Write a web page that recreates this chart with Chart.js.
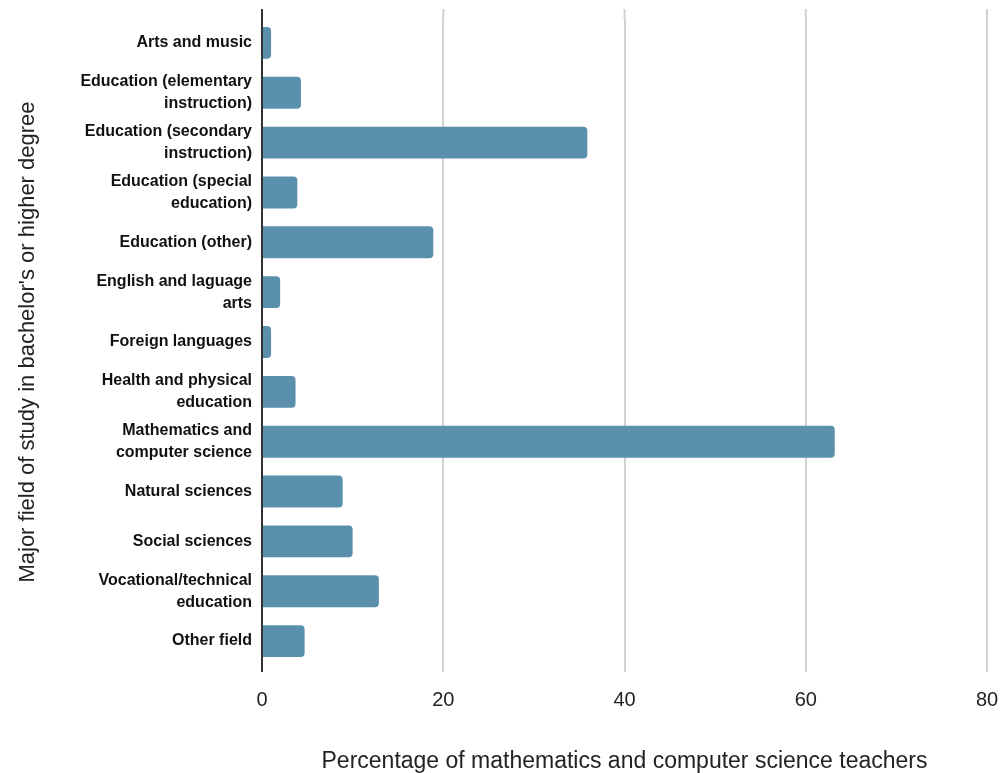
<!DOCTYPE html>
<html>
<head>
<meta charset="utf-8">
<script src="https://cdn.jsdelivr.net/npm/chart.js@4"></script>
<style>
	body { margin: 0; background: #fff; }
</style>
</head>
<body>
<canvas id="chart-area" width="1005" height="773"></canvas>
<script>
var categories = [
	'Arts and music',
	['Education (elementary', 'instruction)'],
	['Education (secondary', 'instruction)'],
	['Education (special', 'education)'],
	'Education (other)',
	['English and laguage', 'arts'],
	'Foreign languages',
	['Health and physical', 'education'],
	['Mathematics and', 'computer science'],
	'Natural sciences',
	'Social sciences',
	['Vocational/technical', 'education'],
	'Other field'
];
var percentages = [1, 4.3, 35.9, 3.9, 18.9, 2, 1, 3.7, 63.2, 8.9, 10, 12.9, 4.7];
var xTicks = [0, 20, 40, 60, 80];

var yTitle = "Major field of study in bachelor's or higher degree";
var xTitle = 'Percentage of mathematics and computer science teachers';

// grid lines in the picture run a bit above and below the bars
var extendGrid = {
	id: 'extendGrid',
	beforeDatasetsDraw: function (chart) {
		var ctx = chart.ctx;
		var area = chart.chartArea;
		var xs = chart.scales.x;
		ctx.save();
		xTicks.forEach(function (v) {
			var px = xs.getPixelForValue(v);
			ctx.beginPath();
			ctx.lineWidth = 2;
			ctx.strokeStyle = v === 0 ? '#333333' : '#d2d2d2';
			ctx.moveTo(px, area.top - 9);
			ctx.lineTo(px, area.top);
			ctx.stroke();
		});
		ctx.restore();
	}
};

var config = {
	type: 'bar',
	data: {
		labels: categories,
		datasets: [{
			data: percentages,
			backgroundColor: '#5b90ad',
			borderRadius: 4,
			barPercentage: 0.64,
			categoryPercentage: 1
		}]
	},
	options: {
		indexAxis: 'y',
		responsive: false,
		animation: false,
		layout: { padding: { top: 18, right: 18, left: 0, bottom: 0 } },
		plugins: {
			legend: { display: false },
			tooltip: { enabled: false }
		},
		scales: {
			x: {
				min: 0,
				max: 80,
				afterBuildTicks: function (scale) {
					scale.ticks = xTicks.map(function (v) { return { value: v }; });
				},
				afterFit: function (scale) {
					scale.height = 107;
					scale.paddingLeft = 0;
					scale.paddingRight = 0;
				},
				grid: {
					color: function (c) { return c.tick && c.tick.value === 0 ? '#333333' : '#d2d2d2'; },
					lineWidth: 2,
					drawTicks: true,
					tickLength: 6,
					tickColor: function (c) { return c.tick && c.tick.value === 0 ? '#333333' : '#d2d2d2'; }
				},
				border: { display: false },
				ticks: {
					padding: 16,
					color: '#222',
					font: { family: 'Liberation Sans', size: 20 }
				},
				title: {
					display: true,
					text: xTitle,
					color: '#222',
					font: { family: 'Liberation Sans', size: 23 },
					padding: { top: 0, bottom: -2 }
				}
			},
			y: {
				afterFit: function (scale) {
					scale.width = 262;
					scale.paddingTop = 0;
					scale.paddingBottom = 0;
				},
				grid: { display: false, drawTicks: false },
				border: { display: false },
				ticks: {
					padding: 10,
					color: '#111',
					autoSkip: false,
					font: { family: 'Liberation Sans', size: 16, weight: 'bold', lineHeight: 1.375 }
				},
				title: {
					display: true,
					text: yTitle,
					color: '#222',
					font: { family: 'Liberation Sans', size: 22 },
					padding: { top: 15, bottom: 0 }
				}
			}
		}
	},
	plugins: [extendGrid]
};

var ctx = document.getElementById('chart-area');
var barChart = new Chart(ctx, config);
</script>
</body>
</html>
